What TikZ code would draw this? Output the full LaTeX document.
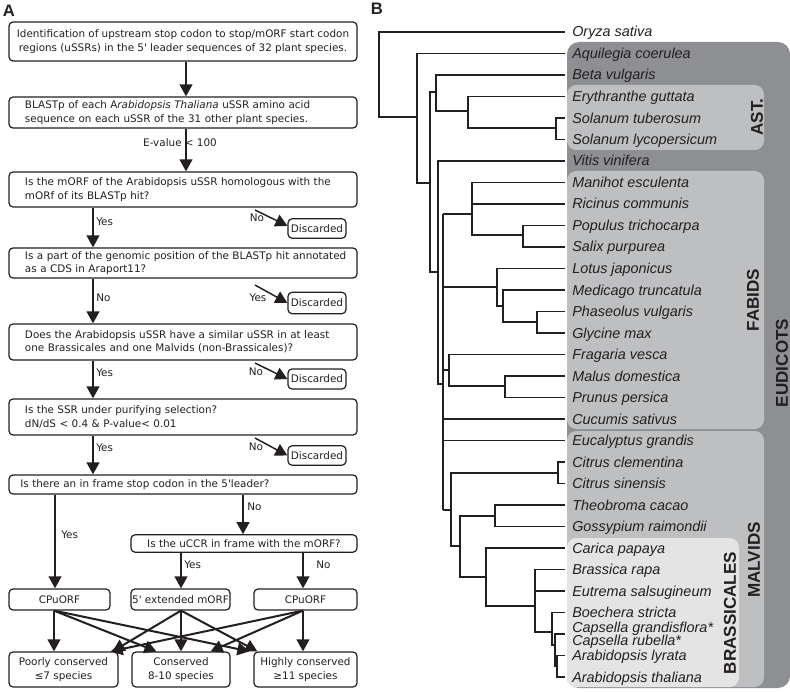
\documentclass[tikz,border=0pt]{standalone}
\usepackage{fontspec}
\setmainfont{Liberation Sans}
\newfontfamily\flowfont{DejaVu Sans}
\usetikzlibrary{arrows.meta,calc}
\definecolor{eudc}{HTML}{8E8F92}
\definecolor{midc}{HTML}{BEBFC1}
\definecolor{lightc}{HTML}{E4E4E5}
\definecolor{inkc}{HTML}{231F20}
\begin{document}
\begin{tikzpicture}[x=0.75pt,y=-0.75pt,
  ffont/.style={font=\flowfont\fontsize{7.8pt}{10pt}\selectfont},
  fbox/.style={ffont, draw=inkc, line width=0.9pt, rounded corners=3pt, inner sep=0pt, align=center, text=inkc},
  lbox/.style={fbox, align=left, text width=237pt, inner xsep=12pt, minimum width=261pt},
  arr/.style={draw=inkc, line width=1.5pt, -{Triangle[length=9pt,width=9.5pt]}},
  darr/.style={draw=inkc, line width=1.1pt, -{Triangle[length=9pt,width=9.5pt]}},
  lab/.style={ffont, inner sep=0pt, text=inkc},
  plabel/.style={font=\bfseries\fontsize{12.5pt}{14pt}\selectfont, inner sep=0pt, text=inkc},
  taxon/.style={font=\itshape\fontsize{10.8pt}{12pt}\selectfont, inner sep=0pt, anchor=base west, text=inkc},
  grp/.style={font=\bfseries\fontsize{12.8pt}{14pt}\selectfont, inner sep=0pt, rotate=90, text=inkc},
  tree/.style={draw=inkc, line width=1pt, line join=miter}]
\useasboundingbox (0,0) rectangle (790,692);

% ---------------- Panel A ----------------
\node[plabel] (pA) at (9,11) {A};

\node[fbox, minimum width=261pt, minimum height=29.25pt] (b1) at (183,41.5)
  {Identification of upstream stop codon to stop/mORF start codon\\regions (uSSRs) in the 5\textquotesingle{} leader sequences of 32 plant species.};
\node[lbox, minimum height=23.25pt] (b2) at (183,112.5)
  {\mbox{BLASTp of each A\textit{rabidopsis Thaliana} uSSR amino acid}\\\mbox{sequence on each uSSR of the 31 other plant species.}};
\node[lbox, minimum height=26.25pt] (b3) at (183,189.5)
  {\mbox{Is the mORF of the Arabidopsis uSSR homologous with the}\\\mbox{mORf of its BLASTp hit?}};
\node[lbox, minimum height=22.5pt] (b4) at (183,263)
  {\mbox{Is a part of the genomic position of the BLASTp hit annotated}\\\mbox{as a CDS in Araport11?}};
\node[lbox, minimum height=27pt] (b5) at (183,342)
  {\mbox{Does the Arabidopsis uSSR have a similar uSSR in at least}\\\mbox{one Brassicales and one Malvids (non-Brassicales)?}};
\node[lbox, minimum height=27pt] (b6) at (183,417)
  {\mbox{Is the SSR under purifying selection?}\\\mbox{dN/dS < 0.4 \& P-value< 0.01}};
\node[fbox, align=left, text width=244pt, inner xsep=8.5pt, minimum height=14.25pt] (b7) at (183,484.5)
  {Is there an in frame stop codon in the 5\textquotesingle leader?};
\node[fbox, minimum width=169.5pt, minimum height=13pt] (b8) at (244,543.5)
  {Is the uCCR in frame with the mORF?};

\node[fbox, minimum width=75.75pt, minimum height=15.75pt] (r1) at (59.5,599.5) {CPuORF};
\node[fbox, minimum width=74.25pt, minimum height=15.75pt] (r2) at (180.5,599.5) {5\textquotesingle{} extended mORF};
\node[fbox, minimum width=77.25pt, minimum height=15.75pt] (r3) at (305.5,599.5) {CPuORF};

\node[fbox, minimum width=81.75pt, minimum height=26.25pt] (p1) at (63.5,669.5) {Poorly conserved\\≤7 species};
\node[fbox, minimum width=73.5pt, minimum height=26.25pt] (p2) at (181,669.5) {Conserved\\8-10 species};
\node[fbox, minimum width=77.25pt, minimum height=26.25pt] (p3) at (305.5,669.5) {Highly conserved\\≥11 species};

\node[fbox, minimum width=43.5pt, minimum height=14.5pt] (d1) at (317,228.5) {Discarded};
\node[fbox, minimum width=43.5pt, minimum height=16pt] (d2) at (317,303) {Discarded};
\node[fbox, minimum width=43.5pt, minimum height=15pt] (d3) at (317,379) {Discarded};
\node[fbox, minimum width=43.5pt, minimum height=14.5pt] (d4) at (317,455.5) {Discarded};

% column coordinates
\coordinate (cA) at (186,0);
\coordinate (cB) at (93,0);
\coordinate (cC) at (55,0);
\coordinate (cD) at (243,0);
\coordinate (cE) at (181,0);
\coordinate (cF) at (303,0);
\coordinate (cG) at (54,0);

\draw[arr] (b1.south -| cA) -- (b2.north -| cA);
\draw[arr] (b2.south -| cA) -- (b3.north -| cA);
\node[lab] (ev) at (180,143) {E-value < 100};
\draw[arr] (b3.south -| cB) -- (b4.north -| cB);
\draw[arr] (b4.south -| cB) -- (b5.north -| cB);
\draw[arr] (b5.south -| cB) -- (b6.north -| cB);
\draw[arr] (b6.south -| cB) -- (b7.north -| cB);
\draw[arr] (b7.south -| cC) -- (r1.north -| cC);
\draw[arr] (b7.south -| cD) -- (b8.north -| cD);
\draw[arr] (b8.south -| cE) -- (r2.north -| cE);
\draw[arr] (b8.south -| cF) -- (r3.north -| cF);

\node[lab, anchor=west] (y1) at (96,222) {Yes};
\node[lab, anchor=west] (y2) at (96,298) {No};
\node[lab, anchor=west] (y3) at (96,373) {Yes};
\node[lab, anchor=west] (y4) at (96,448) {Yes};
\node[lab, anchor=west] (y5) at (247,507) {No};
\node[lab, anchor=west] (y6) at (61,535) {Yes};
\node[lab, anchor=west] (y7) at (184,565) {Yes};
\node[lab, anchor=west] (y8) at (316,565) {No};

% discarded branches
\coordinate (s1) at (255,210);
\coordinate (s2) at (255,285);
\coordinate (s3) at (255,363);
\coordinate (s4) at (255,438);
\draw[darr] (s1) -- ([yshift=2pt]d1.west);
\draw[darr] (s2) -- (d2.west);
\draw[darr] (s3) -- (d3.west);
\draw[darr] (s4) -- (d4.west);
\node[lab] (n1) at (257,218) {No};
\node[lab] (n2) at (258,298) {Yes};
\node[lab] (n3) at (256,372) {No};
\node[lab] (n4) at (256,447) {No};

% bottom arrows
\draw[arr] (r1.south -| cG) -- (p1.north -| cG);
\draw[arr] (r1.south -| cG) -- ($(p2.north west)+(25,0)$);
\draw[arr] (r1.south -| cG) -- ($(p3.north west)+(-4,0)$);
\draw[arr] (r2.south -| cE) -- ($(p1.north east)+(-6,0)$);
\draw[arr] (r2.south -| cE) -- (p2.north -| cE);
\draw[arr] (r2.south -| cE) -- ($(p3.north west)+(4,0)$);
\draw[arr] (r3.south -| cF) -- ($(p1.north east)+(-8,0)$);
\draw[arr] (r3.south -| cF) -- ($(p2.north east)+(-20,0)$);
\draw[arr] (r3.south -| cF) -- (p3.north -| cF);

% ---------------- Panel B ----------------
\node[plabel] (pB) at (377,9) {B};

\fill[eudc, rounded corners=9pt] (567,42) rectangle (790,688);
\fill[midc, rounded corners=7pt] (567,85) rectangle (764,150);
\fill[midc, rounded corners=7pt] (567,171) rectangle (764,429);
\fill[midc, rounded corners=7pt] (567,431) rectangle (764,687);
\fill[lightc, rounded corners=7pt] (567,538) rectangle (739,687);

\node[grp] (gE) at (782,363) {EUDICOTS};
\node[grp] (gA) at (757,117) {AST.};
\node[grp] (gF) at (753,300) {FABIDS};
\node[grp] (gM) at (754,560) {MALVIDS};
\node[grp] (gB) at (730,613) {BRASSICALES};

\foreach \yy/\nm [count=\i] in {
  32/Oryza sativa, 53.5/Aquilegia coerulea, 75/Beta vulgaris,
  96.5/Erythranthe guttata, 118/Solanum tuberosum, 139.5/Solanum lycopersicum,
  161/Vitis vinifera, 182.5/Manihot esculenta, 204/Ricinus communis,
  225.5/Populus trichocarpa, 247/Salix purpurea, 268.5/Lotus japonicus,
  290/Medicago truncatula, 311.5/Phaseolus vulgaris, 333/Glycine max,
  354.5/Fragaria vesca, 376/Malus domestica, 397.5/Prunus persica,
  419/Cucumis sativus, 440.5/Eucalyptus grandis, 462/Citrus clementina,
  483.5/Citrus sinensis, 505/Theobroma cacao, 526.5/Gossypium raimondii,
  548/Carica papaya, 569.5/Brassica rapa, 591/Eutrema salsugineum,
  612.5/Boechera stricta, 627/Capsella grandisflora*, 640/Capsella rubella*,
  655.5/Arabidopsis lyrata, 677/Arabidopsis thaliana}
  \node[taxon] (t\i) at (572,\yy+5) {\nm};

% tree
\draw[tree] (565,32)--(379,32)--(379,117)--(417,117);
\draw[tree] (565,53.5)--(417,53.5)--(417,183)--(430,183);
\draw[tree] (436,92)--(430,92)--(430,272)--(438,272);
\draw[tree] (565,75)--(436,75)--(436,111)--(468,111);
\draw[tree] (565,96.5)--(468,96.5)--(468,128)--(556,128);
\draw[tree] (565,118)--(556,118)--(556,139.5)--(565,139.5);
\draw[tree] (565,161)--(438,161)--(438,384)--(443,384);
\draw[tree] (443,214)--(443,510);
\draw[tree] (443,214)--(472,214);
\draw[tree] (443,287)--(497,287);
\draw[tree] (443,370)--(449,370);
\draw[tree] (443,419)--(565,419);
\draw[tree] (443,440.5)--(565,440.5);
\draw[tree] (443,510)--(451,510);
\draw[tree] (565,182.5)--(472,182.5)--(472,235)--(523,235);
\draw[tree] (472,204)--(565,204);
\draw[tree] (565,225.5)--(523,225.5)--(523,247)--(565,247);
\draw[tree] (565,268.5)--(497,268.5)--(497,306)--(503,306);
\draw[tree] (565,290)--(503,290)--(503,322)--(537,322);
\draw[tree] (565,311.5)--(537,311.5)--(537,333)--(565,333);
\draw[tree] (565,354.5)--(449,354.5)--(449,386)--(505,386);
\draw[tree] (565,376)--(505,376)--(505,397.5)--(565,397.5);
\draw[tree] (558,473)--(451,473)--(451,546)--(460,546);
\draw[tree] (565,462)--(558,462)--(558,483.5)--(565,483.5);
\draw[tree] (495,516)--(460,516)--(460,577)--(486,577);
\draw[tree] (565,505)--(495,505)--(495,526.5)--(565,526.5);
\draw[tree] (565,548)--(486,548)--(486,606)--(535,606);
\draw[tree] (565,569.5)--(535,569.5)--(535,632)--(552,632);
\draw[tree] (535,591)--(565,591);
\draw[tree] (565,612.5)--(552,612.5)--(552,645)--(555,645);
\draw[tree] (565,634)--(555,634)--(555,666)--(557,666);
\draw[tree] (565,655.5)--(557,655.5)--(557,677)--(565,677);
\end{tikzpicture}
\end{document}
